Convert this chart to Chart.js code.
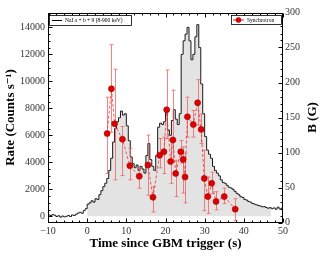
<!DOCTYPE html>
<html><head><meta charset="utf-8">
<script src="https://cdn.jsdelivr.net/npm/chart.js@4"></script>
<style>html,body{margin:0;padding:0;background:#fff;}canvas{display:block;}</style>
</head><body>
<canvas id="c" width="320" height="256"></canvas>
<script>
// ---- data ----
const binStart = -10;
const binWidth = 0.5;
const rates = [
  100, 60, 120, 80, -20, 40, -60, 20, -40, 0,
  60, -20, 100, 60, 160, 240, 300, 220, 420, 560,
  900, 1000, 1150, 1050, 1300, 1250, 1600, 1900, 2200, 2450,
  2800, 3400, 4300, 5500, 6500, 7000, 7300, 7800, 7500, 7600,
  6700, 5600, 4400, 3900, 3600, 3800, 3400, 3700, 3500, 3200,
  4500, 5400, 4200, 3700, 3400, 4500, 6600, 6900, 6800, 7000,
  7900, 6400, 6000, 7100, 7900, 7200, 6800, 7600, 12000, 13000,
  13500, 14000, 13000, 11600, 12000, 13300, 14200, 12500, 9800, 7600,
  5900, 4900, 4600, 4300, 3700, 3400, 3200, 3000, 2700, 2500,
  2450, 2300, 2150, 2100, 2000, 1850, 1700, 1600, 1450, 1400,
  1250, 1200, 1100, 1050, 950, 900, 850, 800, 760, 700,
  720, 650, 600, 640, 560, 620, 520, 680, 540, 600
];
const fillStart = 0;
const fillEnd = 47;
const syncTime = [5.1, 6.2, 7.0, 9.0, 10.9, 13.3, 15.5, 16.8, 18.5, 19.6, 20.3, 21.3, 21.9, 22.6, 23.9, 24.5, 25.0, 25.6, 27.1, 28.2, 29.1, 29.9, 30.8, 31.8, 32.9, 35.0, 37.8];
const syncB    = [127, 191, 141, 119, 81, 66, 82, 36, 96, 101, 161, 87, 118, 70, 101, 90, 65, 151, 140, 171, 133, 63, 37, 56, 30, 37, 19];
const syncLo   = [70, 129, 61, 67, 61, 49, 39, 15, 78, 70, 120, 56, 87, 37, 85, 42, 28, 122, 122, 139, 113, 17, 13, 41, 18, 27, 3];
const syncHi   = [179, 254, 219, 137, 106, 78, 125, 51, 120, 122, 218, 117, 189, 89, 117, 108, 99, 179, 160, 204, 155, 103, 65, 72, 44, 49, 34];
const xTicks = [-10, 0, 10, 20, 30, 40, 50];
const rateTicks = [0, 2000, 4000, 6000, 8000, 10000, 12000, 14000];
const bTicks = [0, 50, 100, 150, 200, 250, 300];
const lcLabel = 'NaI a + b + 9 (8-900 keV)';
const syncLabel = 'Synchrotron';

// ---- build datasets ----
const lcPoints = rates.map((r, i) => ({x: binStart + i * binWidth, y: r}));
lcPoints.push({x: binStart + rates.length * binWidth, y: rates[rates.length - 1]});
const fillPoints = lcPoints.filter(p => p.x >= fillStart && p.x <= fillEnd);
const syncPoints = syncTime.map((t, i) => ({x: t, y: syncB[i]}));

const SERIF = '"Liberation Serif", "DejaVu Serif", serif';
const minus = v => String(v).replace('-', '\u2212');

const decor = {
  id: 'decor',
  beforeDatasetDraw(chart, args) {
    if (args.index !== 2) return;
    const {ctx} = chart;
    const xs = chart.scales.x, ys = chart.scales.y2;
    ctx.save();
    ctx.strokeStyle = 'rgba(240,90,90,0.75)';
    ctx.lineWidth = 1;
    syncTime.forEach((t, i) => {
      const px = Math.round(xs.getPixelForValue(t)) + 0.5;
      const y1 = ys.getPixelForValue(syncLo[i]);
      const y2 = ys.getPixelForValue(syncHi[i]);
      ctx.beginPath();
      ctx.moveTo(px, y1); ctx.lineTo(px, y2);
      ctx.moveTo(px - 2, y1); ctx.lineTo(px + 2, y1);
      ctx.moveTo(px - 2, y2); ctx.lineTo(px + 2, y2);
      ctx.stroke();
    });
    ctx.restore();
  },
  afterDraw(chart) {
    const {ctx, chartArea: a} = chart;
    const xs = chart.scales.x, yl = chart.scales.y, yr = chart.scales.y2;
    ctx.save();
    ctx.strokeStyle = '#000';
    ctx.lineWidth = 1;
    const L = Math.round(a.left) + 0.5, R = Math.round(a.right) - 0.5;
    const T = Math.round(a.top) + 0.5, B = Math.round(a.bottom) - 0.5;
    ctx.strokeRect(L, T, R - L, B - T);
    ctx.beginPath();
    for (let v = xs.min; v <= xs.max + 1e-9; v += 2) {
      const px = Math.round(xs.getPixelForValue(v)) + 0.5;
      const len = xTicks.includes(Math.round(v)) ? 4 : 2;
      ctx.moveTo(px, B); ctx.lineTo(px, B - len);
      ctx.moveTo(px, T); ctx.lineTo(px, T + len);
    }
    for (let v = 0; v <= yl.max; v += 500) {
      const py = Math.round(yl.getPixelForValue(v)) + 0.5;
      const len = rateTicks.includes(v) ? 4 : 2;
      ctx.moveTo(L, py); ctx.lineTo(L + len, py);
    }
    for (let v = 0; v <= yr.max; v += 10) {
      const py = Math.round(yr.getPixelForValue(v)) + 0.5;
      const len = bTicks.includes(v) ? 4 : 2;
      ctx.moveTo(R, py); ctx.lineTo(R - len, py);
    }
    ctx.stroke();

    // legends
    ctx.font = '5.5px ' + SERIF;
    ctx.textBaseline = 'middle';
    ctx.fillStyle = '#fff';
    ctx.lineWidth = 0.8;
    ctx.fillRect(49.5, 15.5, 82, 10);
    ctx.strokeRect(49.5, 15.5, 82, 10);
    ctx.beginPath(); ctx.moveTo(52, 20.5); ctx.lineTo(62, 20.5); ctx.lineWidth = 1; ctx.stroke();
    ctx.fillStyle = '#000';
    ctx.fillText(lcLabel, 65, 20.8);

    ctx.fillStyle = '#fff';
    ctx.lineWidth = 0.8;
    ctx.fillRect(231.5, 15.5, 50, 9);
    ctx.strokeRect(231.5, 15.5, 50, 9);
    ctx.beginPath(); ctx.moveTo(233, 20); ctx.lineTo(244, 20);
    ctx.strokeStyle = '#e02020'; ctx.lineWidth = 1; ctx.stroke();
    ctx.beginPath(); ctx.arc(238.5, 20, 2.5, 0, Math.PI * 2);
    ctx.fillStyle = '#e00000'; ctx.fill();
    ctx.strokeStyle = '#a00000'; ctx.lineWidth = 0.6; ctx.stroke();
    ctx.fillStyle = '#000';
    ctx.fillText(syncLabel, 247, 20.3);

    // right axis title (reads bottom to top)
    ctx.save();
    ctx.translate(313, (a.top + a.bottom) / 2);
    ctx.rotate(-Math.PI / 2);
    ctx.font = 'bold 13px ' + SERIF;
    ctx.textAlign = 'center';
    ctx.textBaseline = 'middle';
    ctx.fillText('B (G)', 0, 0);
    ctx.restore();
    ctx.restore();
  }
};

new Chart(document.getElementById('c'), {
  type: 'line',
  data: {
    datasets: [
      {
        label: 'fill', data: fillPoints, yAxisID: 'y', stepped: true,
        fill: 'origin', backgroundColor: '#e3e3e3', borderWidth: 0,
        pointRadius: 0, order: 2
      },
      {
        label: lcLabel, data: lcPoints, yAxisID: 'y', stepped: true,
        fill: false, borderColor: '#1a1a1a', borderWidth: 1,
        pointRadius: 0, order: 1
      },
      {
        label: syncLabel, data: syncPoints, yAxisID: 'y2',
        fill: false, borderColor: 'rgba(235,50,50,0.8)', borderWidth: 1,
        borderDash: [3, 2], pointRadius: 3, pointBackgroundColor: '#e00000',
        pointBorderColor: '#a00000', pointBorderWidth: 0.6, order: 0
      }
    ]
  },
  options: {
    responsive: false,
    animation: false,
    devicePixelRatio: 1,
    layout: {padding: {top: 12.5, left: 0, right: 0, bottom: 0}},
    plugins: {legend: {display: false}, tooltip: {enabled: false}},
    scales: {
      x: {
        type: 'linear', position: 'bottom', min: -10, max: 50,
        afterBuildTicks: s => { s.ticks = xTicks.map(v => ({value: v})); },
        afterFit: s => { s.height = 33.5; },
        grid: {display: false, drawTicks: false}, border: {display: false},
        ticks: {color: '#333', font: {family: SERIF, size: 10}, padding: 3, maxRotation: 0,
                callback: v => minus(v)},
        title: {display: true, text: 'Time since GBM trigger (s)', color: '#000',
                font: {family: SERIF, size: 13, weight: 'bold'}, padding: {top: 0, bottom: 5}}
      },
      y: {
        type: 'linear', position: 'left', min: -460, max: 15100,
        afterBuildTicks: s => { s.ticks = rateTicks.map(v => ({value: v})); },
        afterFit: s => { s.width = 48; },
        grid: {display: false, drawTicks: false}, border: {display: false},
        ticks: {color: '#333', font: {family: SERIF, size: 10}, padding: 3,
                callback: v => minus(v)},
        title: {display: true, text: 'Rate (Counts s\u207B\u00B9)', color: '#000',
                font: {family: SERIF, size: 13, weight: 'bold'}, padding: {top: 3, bottom: 0}}
      },
      y2: {
        type: 'linear', position: 'right', min: 0, max: 300,
        afterBuildTicks: s => { s.ticks = bTicks.map(v => ({value: v})); },
        afterFit: s => { s.width = 37; },
        grid: {display: false, drawTicks: false}, border: {display: false},
        ticks: {color: '#333', font: {family: SERIF, size: 10}, padding: 2}
      }
    }
  },
  plugins: [decor]
});
</script>
</body></html>
